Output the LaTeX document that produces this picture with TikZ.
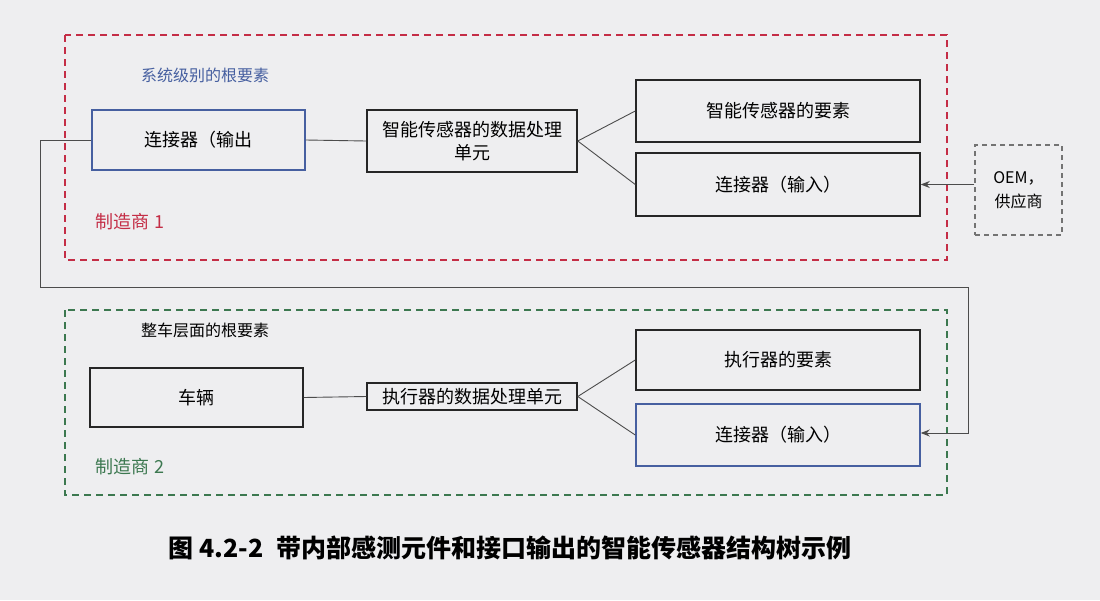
\documentclass[tikz,border=0pt]{standalone}
\usepackage{fontspec}
\setmainfont{Noto Sans CJK SC}
\usetikzlibrary{arrows.meta}
\definecolor{bg}{RGB}{238,238,240}
\definecolor{redd}{RGB}{196,45,70}
\definecolor{grn}{RGB}{60,120,80}
\definecolor{blu}{RGB}{70,95,160}
\tikzset{
 box/.style={draw=black!85,line width=1.5pt,inner sep=0pt,font=\fontsize{18}{23}\selectfont,align=center},
 bbox/.style={box,draw=blu},
 conn/.style={draw=black!70,line width=0.9pt},
}
\begin{document}
\begin{tikzpicture}[x=1pt,y=-1pt]
\fill[bg] (0,0) rectangle (1100,600);
\useasboundingbox (0,0) rectangle (1100,600);
\draw[redd,line width=2pt,dash pattern=on 7pt off 5pt] (65,35) rectangle (947,260);
\draw[grn,line width=2pt,dash pattern=on 7pt off 5pt] (65,310) rectangle (947,495);
\node[text=blu,font=\fontsize{16}{18}\selectfont] (t1) at (205,75) {系统级别的根要素};
\node[text=redd,font=\fontsize{18}{20}\selectfont] (m1) at (130,222) {制造商 1};
\node[font=\fontsize{16}{18}\selectfont] (t2) at (205,330) {整车层面的根要素};
\node[text=grn,font=\fontsize{18}{20}\selectfont] (m2) at (130,467) {制造商 2};
\node[bbox,minimum width=213pt,minimum height=60pt] (out) at (198.5,140) {连接器（输出};
\node[box,minimum width=210pt,minimum height=62pt] (dp1) at (472,141) {智能传感器的数据处理\\单元};
\node[box,minimum width=284pt,minimum height=62pt] (e1) at (778,111) {智能传感器的要素};
\node[box,minimum width=284pt,minimum height=63pt] (in1) at (778,184.5) {连接器（输入）};
\node[draw=black!55,line width=1.4pt,dash pattern=on 5pt off 4pt,minimum width=87pt,minimum height=90pt,align=center,font=\fontsize{16}{24}\selectfont] (oem) at (1018.5,190) {OEM，\\供应商};
\node[box,minimum width=213pt,minimum height=59pt] (car) at (196.5,397.5) {车辆};
\node[box,minimum width=210pt,minimum height=27pt] (dp2) at (472,396.5) {执行器的数据处理单元};
\node[box,minimum width=284pt,minimum height=60pt] (e2) at (778,360) {执行器的要素};
\node[bbox,minimum width=284pt,minimum height=62pt] (in2) at (778,435) {连接器（输入）};
\draw[conn] (out.east) -- (dp1.west);
\draw[conn] (dp1.east) -- (e1.west);
\draw[conn] (dp1.east) -- (in1.west);
\draw[conn] (car.east) -- (dp2.west);
\draw[conn] (dp2.east) -- (e2.west);
\draw[conn] (dp2.east) -- (in2.west);
\draw[conn,-{Stealth[length=9pt,width=7pt]}] (oem.west |- in1.east) -- (in1.east);
\draw[conn,-{Stealth[length=9pt,width=7pt]}] (out.west) -- (40,140) -- (40,287) -- (968,287) -- (968,433) -- (in2.east |- 0,433);
\node[font=\bfseries\fontsize{25}{28}\selectfont] (cap) at (510,548) {图 4.2-2\enspace 带内部感测元件和接口输出的智能传感器结构树示例};
\end{tikzpicture}
\end{document}
